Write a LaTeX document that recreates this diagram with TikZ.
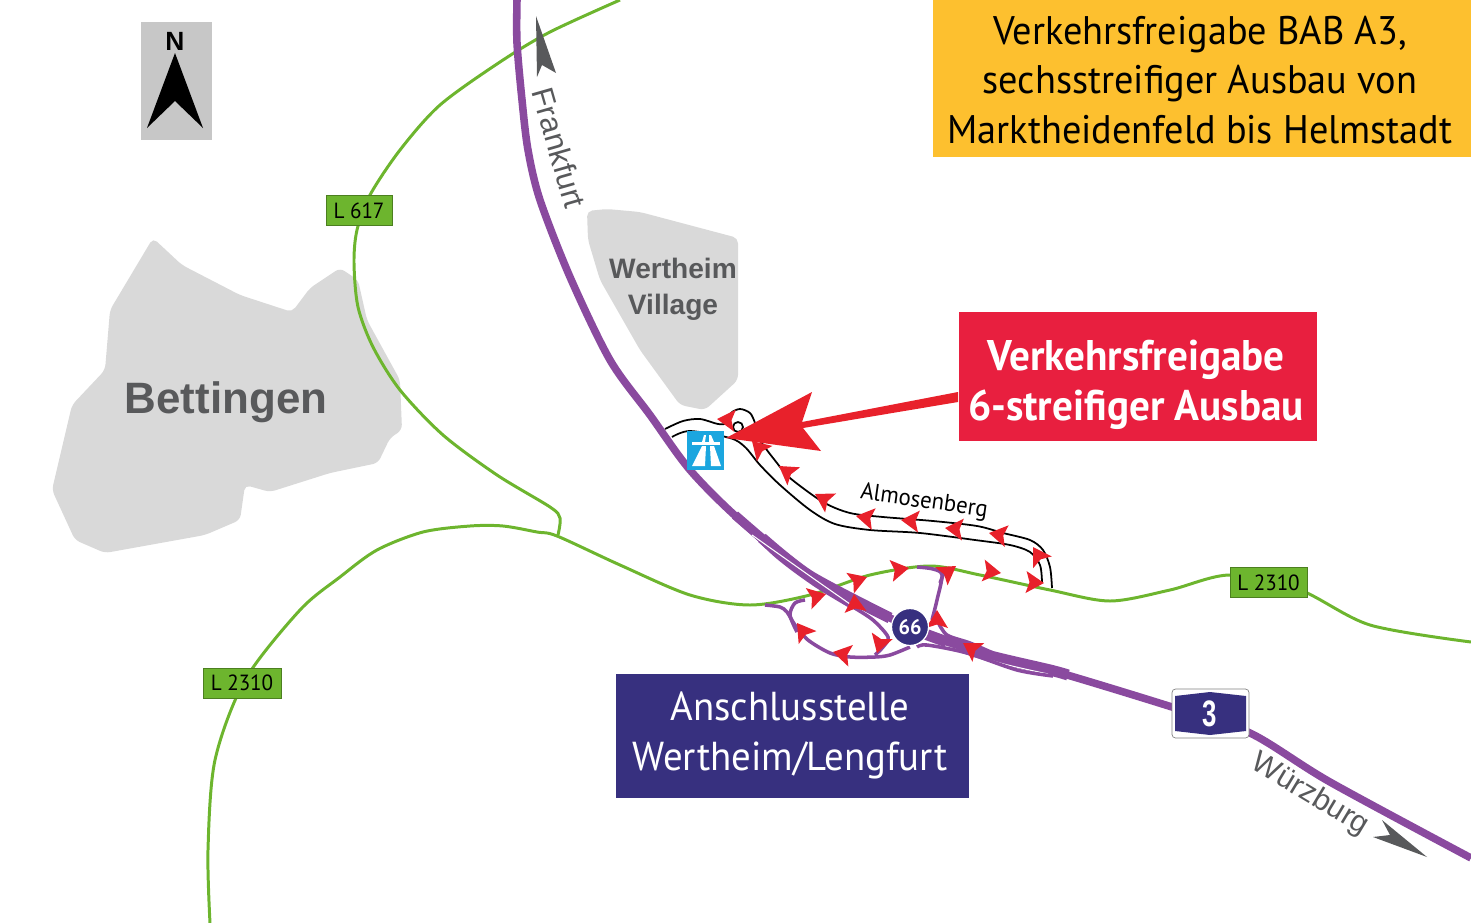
\documentclass[tikz,border=0pt]{standalone}
\usepackage{fontspec}
\usepackage{xcolor}
\setmainfont[FakeStretch=0.96]{PT Sans}
\newfontfamily\arialfont{Liberation Sans}
\usetikzlibrary{positioning}

\definecolor{autobahn}{HTML}{8A4A9F}
\definecolor{landroad}{HTML}{6DB52E}
\definecolor{tipred}{HTML}{E8212B}
\definecolor{signblue}{HTML}{37307F}
\definecolor{boxred}{HTML}{E81F3F}
\definecolor{boxyellow}{HTML}{FDC02F}
\definecolor{areagray}{HTML}{D9D9D9}
\definecolor{textgray}{HTML}{58595B}
\definecolor{symbolblue}{HTML}{1BA6DF}

\begin{document}
\begin{tikzpicture}[x=0.02cm,y=-0.02cm]
            \tikzstyle{area} = [fill=areagray, rounded corners=3pt]
            \tikzstyle{greenroad} = [draw=landroad, line width=1.7pt]
            \tikzstyle{mainroad} = [draw=autobahn, line width=4.3pt]
            \tikzstyle{ramp} = [draw=autobahn, line width=2pt]
            \tikzstyle{access} = [draw=black, line width=1pt]
            \tikzstyle{roadsign} = [fill=landroad, draw=landroad!70!black, line width=0.3pt, inner sep=0pt, minimum height=0.6cm, text=black, font=\fontsize{12.5}{14}\selectfont]
            \tikzstyle{areatext} = [text=textgray, font=\arialfont\bfseries]
            \tikzstyle{citytext} = [text=textgray, font=\arialfont]
            \tikzset{flowtip/.pic={\fill[tipred] (0,0) -- (-18,-11) -- (-14.5,0) -- (-18,11) -- cycle;}}

            \useasboundingbox (0,0) rectangle (1471,923);

            % built-up areas
            \fill[area] (153,238) -- (182,265) -- (240,295) -- (292,312) -- (310,288) -- (340,268) -- (358,280) -- (367,320) -- (400,380) -- (402,430) -- (390,438) -- (378,463) -- (330,473) -- (270,492) -- (245,485) -- (240,520) -- (205,535) -- (105,553) -- (75,540) -- (52,490) -- (72,405) -- (105,370) -- (110,310) -- cycle;
            \fill[area] (587,211) -- (607,209) -- (640,212) -- (738,238) -- (738,380) -- (705,410) -- (680,405) -- (640,350) -- (600,280) -- (588,240) -- cycle;
            \node[areatext, font=\arialfont\bfseries\fontsize{25}{28}\selectfont] (bettingen) at (226,402) {Bettingen};
            \node[areatext, align=center, font=\arialfont\bfseries\fontsize{16}{20.5}\selectfont] (village) at (673,289) {Wertheim\\Village};

            % green roads
            \draw[greenroad] plot[smooth] coordinates {(620,0) (550,32) (500,62) (440,105) (400,150) (370,195) (357,230) (354,263) (358,307) (373,347) (400,390) (443,435) (497,475) (550,507) (560,518) (558,535)};
            \draw[greenroad] plot[smooth] coordinates {(210,923) (208,850) (215,760) (245,680) (300,610) (340,577) (377,550) (423,532) (470,526) (503,526) (537,532) (557,536) (620,565) (690,595) (750,605) (810,595) (870,575) (930,566) (980,575) (1050,590) (1110,601) (1170,590) (1230,575) (1300,590) (1370,625) (1471,642)};

            % access road
            \draw[access] plot[smooth] coordinates {(665,429) (683,421) (700,419) (718,424) (727,423) (731,413) (740,409) (750,413) (755,423) (760,440) (777,463) (790,478) (823,502) (850,513) (883,517) (933,521) (977,526) (1003,533) (1030,540) (1043,550) (1050,567) (1052,588)};
            \draw[access] plot[smooth] coordinates {(672,437) (690,431) (730,438) (745,447) (760,465) (780,485) (810,510) (835,524) (870,530) (920,533) (975,540) (1010,545) (1030,552) (1040,565) (1042,582)};
            \draw[access] (738,427) circle [radius=5];

            % motorway
            \draw[mainroad] plot[smooth] coordinates {(517,0) (517,43) (522,100) (528,150) (540,200) (570,277) (610,360) (650,415) (690,470) (740,520) (810,576) (890,618) (960,647) (1050,670) (1172,707) (1250,733) (1330,782) (1471,858)};
            \draw[autobahn, line width=5.2pt] plot[smooth] coordinates {(735,515) (770,545) (810,576)};
            \draw[autobahn, line width=6.3pt] plot[smooth] coordinates {(762,538) (810,576) (890,618)};
            \draw[autobahn, line width=6.3pt] plot[smooth] coordinates {(925,634) (983,654) (1050,670) (1068,675)};
            \draw[ramp] plot[smooth] coordinates {(735,515) (775,555) (815,585) (853,608)};
            \draw[white, line width=0.6pt] plot[smooth] coordinates {(752,535) (817,581) (850,604)};
            \draw[white, line width=0.6pt] plot[smooth] coordinates {(945,646) (1000,663) (1048,674)};

            % interchange ramps
            \draw[ramp] plot[smooth] coordinates {(765,605) (780,607) (787,612) (795,625) (808,640) (830,653) (850,657) (875,657) (890,655) (910,647)};
            \draw[ramp] plot[smooth] coordinates {(805,600) (795,603) (790,615) (797,632)};
            \draw[ramp] plot[smooth] coordinates {(853,607) (873,620) (888,637) (883,647) (875,655)};
            \draw[ramp] plot[smooth] coordinates {(917,567) (933,569) (942,575) (937,600) (932,620)};
            \draw[ramp] plot[smooth] coordinates {(945,570) (940,583)};
            \draw[ramp] plot[smooth] coordinates {(938,622) (947,635) (970,643) (993,653)};
            \draw[ramp] plot[smooth] coordinates {(917,647) (927,645) (967,653) (1017,670) (1053,676)};

            % traffic direction
            \foreach \x/\y/\a in {717/419/175, 752/441/135, 779/466/145, 815/494/150, 856/516/170, 901/520/175, 945/528/175, 989/533/170, 1033/547/122, 1044/583/-3, 1001/573/-8, 956/566/35, 909/568/9, 867/577/20, 826/594/15, 854/594/95, 937/610/90, 963/643/148, 877/653/-107, 833/652/168, 797/623/126}
                \pic[rotate=\a] at (\x,\y) {flowtip};

            % pointer to the opening
            \fill[tipred] (726,438) -- (812,392) -- (802,422) -- (958,392) -- (958,402) -- (803,428) -- (821,451) -- cycle;

            % boxes
            \node[fill=boxyellow, minimum width=10.76cm, minimum height=3.14cm, inner sep=0pt] (title) at (1202,78.5) {};
            \node[inner sep=0pt, align=center, font=\fontsize{22.7}{28.4}\selectfont] (titletext) at (1200,80) {Verkehrsfreigabe BAB A3,\\sechsstreifiger Ausbau von\\Marktheidenfeld bis Helmstadt};
            \node[fill=boxred, minimum width=7.18cm, minimum height=2.58cm, inner sep=0pt] (freigabe) at (1138,376.5) {};
            \node[text=white, inner sep=0pt, align=center, font=\bfseries\fontsize{24.4}{28.4}\selectfont] (freigabetext) at (1136,385) {Verkehrsfreigabe\\6-streifiger Ausbau};
            \node[fill=signblue, minimum width=7.06cm, minimum height=2.48cm, inner sep=0pt] (anschluss) at (792.5,736) {};
            \node[text=white, inner sep=0pt, align=center, font=\fontsize{23}{28.4}\selectfont] (anschlusstext) at (790,735) {Anschlusstelle\\Wertheim/Lengfurt};

            % road signs
            \node[roadsign, minimum width=1.32cm] (l617) at (359,210.5) {L 617};
            \node[roadsign, minimum width=1.54cm] (l2310a) at (1268.5,582.5) {L 2310};
            \node[roadsign, minimum width=1.56cm] (l2310b) at (242,683) {L 2310};

            % north arrow
            \node[fill=black!22, minimum width=1.42cm, minimum height=2.36cm, inner sep=0pt] (northbox) at (176.5,81) {};
            \node[font=\arialfont\bfseries\fontsize{15}{16}\selectfont, inner sep=0pt] (north) at (175,41) {N};
            \fill[black] (175,53) -- (203,128) -- (175,101) -- (147,128) -- cycle;

            % motorway symbol
            \node[fill=symbolblue, minimum width=0.74cm, minimum height=0.78cm, inner sep=0pt] (symbol) at (705.5,450.5) {};
            \fill[white] (692,442) rectangle (720,445);
            \fill[white] (702,446) -- (706,446) -- (705,466) -- (692,466) -- cycle;
            \fill[white] (710,446) -- (714,446) -- (721,466) -- (711,466) -- cycle;
            \fill[white] (702,442) -- (704,435) -- (706,435) -- (705,442) -- cycle;
            \fill[white] (709,442) -- (709,435) -- (711,435) -- (714,442) -- cycle;

            % junction and motorway number
            \node[circle, fill=signblue, draw=white, line width=0.7pt, minimum size=0.74cm, inner sep=0pt, text=white, font=\bfseries\fontsize{12}{14}\selectfont] (exit) at (910,627) {66};
            \node[draw=gray, fill=white, rounded corners=2pt, minimum width=1.54cm, minimum height=0.98cm, inner sep=0pt] (shield) at (1210.5,713.5) {};
            \fill[signblue] (1175,696) -- (1210,692) -- (1246,696) -- (1246,731) -- (1210,735) -- (1175,731) -- cycle;
            \node[text=white, xscale=0.7, transform shape, font=\arialfont\bfseries\fontsize{21}{24}\selectfont, inner sep=0pt] (number) at (1210,713.5) {3};

            % place names
            \node[rotate=-8, font=\fontsize{13.5}{15}\selectfont, inner sep=0pt] (almosenberg) at (924,502) {Almosenberg};
            \node[citytext, rotate=-74, font=\arialfont\fontsize{17.5}{18}\selectfont, inner sep=0pt] (frankfurt) at (559,148) {Frankfurt};
            \node[citytext, rotate=-31, font=\arialfont\fontsize{17.2}{18}\selectfont, inner sep=0pt] (wuerzburg) at (1310,795) {Würzburg};
            \fill[textgray] (536,16) -- (556,73) -- (542,65) -- (537,77) -- cycle;
            \fill[textgray] (1427,857) -- (1382,820) -- (1390,835) -- (1373,837) -- cycle;
\end{tikzpicture}
\end{document}
